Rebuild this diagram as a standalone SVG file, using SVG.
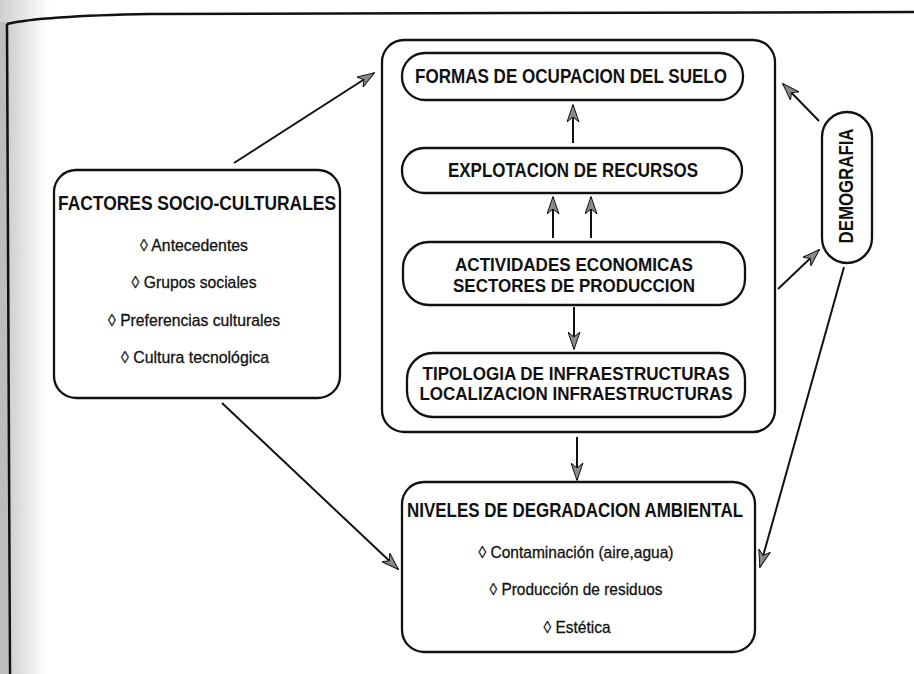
<svg xmlns="http://www.w3.org/2000/svg" width="914" height="674" viewBox="0 0 914 674">
<defs>
<linearGradient id="scan" x1="0" y1="0" x2="1" y2="0">
<stop offset="0" stop-color="#cfcfcf"/>
<stop offset="1" stop-color="#ffffff"/>
</linearGradient>
<marker id="ah" viewBox="0 0 18 13" markerWidth="18" markerHeight="13" refX="17" refY="6.5" orient="auto" markerUnits="userSpaceOnUse">
<path d="M0,0.5 L17.5,6.5 L0,12.5 L5,6.5 Z" fill="#8a8a8a" stroke="#111" stroke-width="1"/>
</marker>
<style>
.box{fill:#fff;stroke:#111;stroke-width:2.3}
.t{font-family:"Liberation Sans",Arial,sans-serif;font-weight:bold;fill:#111;text-anchor:middle}
.i{font-family:"Liberation Sans",Arial,sans-serif;fill:#111;stroke:#111;stroke-width:0.3;text-anchor:middle;font-size:17px}
.c{fill:none;stroke:#111;stroke-width:2}
</style>
</defs>
<rect x="0" y="0" width="914" height="674" fill="#fff"/>
<rect x="0" y="0" width="8" height="674" fill="#bdbdbd"/>
<rect x="8" y="22" width="40" height="652" fill="url(#scan)"/>
<rect x="0" y="0" width="50" height="22" fill="url(#scan)"/>
<path d="M7,24 Q40,16 150,14 L914,12" fill="none" stroke="#111" stroke-width="2.5"/>
<path d="M7,24 L10,674" fill="none" stroke="#111" stroke-width="2.5"/>

<g id="factores">
<rect class="box" x="54" y="170" width="286" height="228" rx="22"/>
<text class="t" x="197" y="210" font-size="20.5" textLength="278" lengthAdjust="spacingAndGlyphs">FACTORES SOCIO-CULTURALES</text>
<text class="i" x="194" y="251" textLength="108" lengthAdjust="spacingAndGlyphs">◊ Antecedentes</text>
<text class="i" x="194" y="288" textLength="125" lengthAdjust="spacingAndGlyphs">◊ Grupos sociales</text>
<text class="i" x="194" y="326" textLength="172" lengthAdjust="spacingAndGlyphs">◊ Preferencias culturales</text>
<text class="i" x="195" y="363" textLength="148" lengthAdjust="spacingAndGlyphs">◊ Cultura tecnológica</text>
</g>

<g id="sistema">
<rect class="box" x="382" y="40" width="393" height="392" rx="22"/>
</g>
<g id="formas">
<rect class="box" x="402" y="53" width="341" height="47" rx="23"/>
<text class="t" x="571" y="83" font-size="21" textLength="312" lengthAdjust="spacingAndGlyphs">FORMAS DE OCUPACION DEL SUELO</text>
</g>
<g id="explotacion">
<rect class="box" x="402" y="148" width="340" height="45" rx="22"/>
<text class="t" x="573" y="177" font-size="19.5" textLength="250" lengthAdjust="spacingAndGlyphs">EXPLOTACION DE RECURSOS</text>
</g>
<g id="actividades">
<rect class="box" x="403" y="242" width="342" height="63" rx="26"/>
<text class="t" x="574" y="271" font-size="19" textLength="238" lengthAdjust="spacingAndGlyphs">ACTIVIDADES ECONOMICAS</text>
<text class="t" x="574" y="292" font-size="19" textLength="242" lengthAdjust="spacingAndGlyphs">SECTORES DE PRODUCCION</text>
</g>
<g id="tipologia">
<rect class="box" x="407" y="353" width="338" height="64" rx="26"/>
<text class="t" x="576" y="380" font-size="19" textLength="307" lengthAdjust="spacingAndGlyphs">TIPOLOGIA DE INFRAESTRUCTURAS</text>
<text class="t" x="576" y="400" font-size="19" textLength="313" lengthAdjust="spacingAndGlyphs">LOCALIZACION INFRAESTRUCTURAS</text>
</g>

<g id="demografia">
<rect class="box" x="822" y="112" width="50" height="151" rx="25"/>
<text class="t" transform="translate(853,186) rotate(-90)" x="0" y="0" font-size="20" textLength="115" lengthAdjust="spacingAndGlyphs">DEMOGRAFIA</text>
</g>

<g id="niveles">
<rect class="box" x="402" y="482" width="353" height="170" rx="22"/>
<text class="t" x="575" y="517" font-size="20" textLength="336" lengthAdjust="spacingAndGlyphs">NIVELES DE DEGRADACION AMBIENTAL</text>
<text class="i" x="576" y="558" textLength="195" lengthAdjust="spacingAndGlyphs">◊ Contaminación (aire,agua)</text>
<text class="i" x="576" y="595" textLength="173" lengthAdjust="spacingAndGlyphs">◊ Producción de residuos</text>
<text class="i" x="577" y="633" textLength="67" lengthAdjust="spacingAndGlyphs">◊ Estética</text>
</g>

<g id="connectors">
<line class="c" x1="573" y1="143" x2="573" y2="105" marker-end="url(#ah)"/>
<line class="c" x1="553" y1="238" x2="553" y2="197" marker-end="url(#ah)"/>
<line class="c" x1="591" y1="238" x2="591" y2="197" marker-end="url(#ah)"/>
<line class="c" x1="574" y1="307" x2="574" y2="349" marker-end="url(#ah)"/>
<line class="c" x1="577" y1="437" x2="577" y2="480" marker-end="url(#ah)"/>
<line class="c" x1="234" y1="163" x2="374" y2="73" marker-end="url(#ah)"/>
<line class="c" x1="222" y1="403" x2="398" y2="569" marker-end="url(#ah)"/>
<line class="c" x1="819" y1="121" x2="783" y2="84" marker-end="url(#ah)"/>
<line class="c" x1="778" y1="289" x2="819" y2="250" marker-end="url(#ah)"/>
<line class="c" x1="844" y1="267" x2="760" y2="567" marker-end="url(#ah)"/>
</g>
</svg>
